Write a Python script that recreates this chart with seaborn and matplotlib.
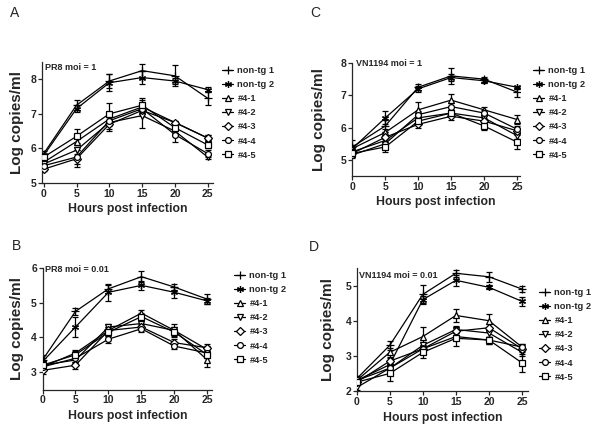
import numpy as np
import pandas as pd
import matplotlib
matplotlib.use("Agg")
import matplotlib.pyplot as plt
from matplotlib.lines import Line2D
import seaborn as sns

sns.set_style("ticks")
plt.rcParams['font.family'] = ['Liberation Sans', 'DejaVu Sans']

hours = [0, 5, 10, 15, 20, 25]
groups = ["non-tg 1", "non-tg 2", "#4-1", "#4-2", "#4-3", "#4-4", "#4-5"]

# Panel A: PR8 moi = 1
a_vals = {
    "non-tg 1": [5.85, 7.25, 7.95, 8.25, 8.1, 7.45],
    "non-tg 2": [5.8, 7.15, 7.9, 8.05, 7.95, 7.7],
    "#4-1": [5.6, 6.2, 6.85, 7.2, 6.75, 6.3],
    "#4-2": [5.55, 5.95, 6.75, 6.95, 6.5, 5.75],
    "#4-3": [5.4, 5.7, 6.7, 7.1, 6.75, 6.3],
    "#4-4": [5.5, 5.75, 6.8, 7.15, 6.4, 5.85],
    "#4-5": [5.75, 6.35, 7.0, 7.25, 6.6, 6.1],
}
a_err = {
    "non-tg 1": [0.08, 0.15, 0.2, 0.2, 0.3, 0.2],
    "non-tg 2": [0.05, 0.1, 0.25, 0.2, 0.1, 0.08],
    "#4-1": [0.05, 0.1, 0.2, 0.2, 0.05, 0.1],
    "#4-2": [0.05, 0.1, 0.2, 0.35, 0.05, 0.05],
    "#4-3": [0.05, 0.25, 0.2, 0.15, 0.05, 0.1],
    "#4-4": [0.05, 0.2, 0.1, 0.15, 0.2, 0.1],
    "#4-5": [0.05, 0.2, 0.3, 0.2, 0.1, 0.1],
}

# Panel C: VN1194 moi = 1
c_vals = {
    "non-tg 1": [5.4, 6.05, 7.25, 7.6, 7.5, 7.1],
    "non-tg 2": [5.35, 6.3, 7.2, 7.55, 7.45, 7.25],
    "#4-1": [5.35, 5.85, 6.55, 6.85, 6.55, 6.25],
    "#4-2": [5.25, 5.6, 6.3, 6.45, 6.3, 5.75],
    "#4-3": [5.2, 5.7, 6.1, 6.35, 6.2, 5.9],
    "#4-4": [5.15, 5.5, 6.4, 6.65, 6.45, 5.95],
    "#4-5": [5.2, 5.4, 6.2, 6.45, 6.05, 5.55],
}
c_err = {
    "non-tg 1": [0.2, 0.2, 0.1, 0.25, 0.08, 0.15],
    "non-tg 2": [0.1, 0.2, 0.1, 0.1, 0.08, 0.05],
    "#4-1": [0.1, 0.1, 0.25, 0.2, 0.1, 0.15],
    "#4-2": [0.1, 0.15, 0.1, 0.1, 0.1, 0.1],
    "#4-3": [0.1, 0.15, 0.1, 0.1, 0.1, 0.1],
    "#4-4": [0.1, 0.15, 0.1, 0.1, 0.1, 0.1],
    "#4-5": [0.1, 0.15, 0.1, 0.1, 0.12, 0.22],
}

# Panel B: PR8 moi = 0.01
b_vals = {
    "non-tg 1": [3.35, 4.75, 5.4, 5.75, 5.45, 5.1],
    "non-tg 2": [3.3, 4.3, 5.3, 5.5, 5.3, 5.05],
    "#4-1": [3.15, 3.55, 4.2, 4.7, 4.2, 3.35],
    "#4-2": [3.2, 3.35, 4.3, 4.4, 4.2, 3.65],
    "#4-3": [3.05, 3.2, 4.2, 4.3, 3.85, 3.7],
    "#4-4": [3.15, 3.4, 3.95, 4.25, 3.75, 3.55],
    "#4-5": [3.2, 3.5, 4.15, 4.6, 4.15, 3.5],
}
b_err = {
    "non-tg 1": [0.15, 0.1, 0.12, 0.15, 0.08, 0.15],
    "non-tg 2": [0.1, 0.3, 0.25, 0.12, 0.15, 0.1],
    "#4-1": [0.1, 0.1, 0.1, 0.1, 0.1, 0.2],
    "#4-2": [0.1, 0.1, 0.08, 0.1, 0.2, 0.1],
    "#4-3": [0.1, 0.1, 0.1, 0.1, 0.1, 0.1],
    "#4-4": [0.1, 0.1, 0.1, 0.1, 0.08, 0.1],
    "#4-5": [0.1, 0.1, 0.1, 0.1, 0.1, 0.1],
}

# Panel D: VN1194 moi = 0.01
d_vals = {
    "non-tg 1": [2.35, 3.3, 4.75, 5.35, 5.25, 4.9],
    "non-tg 2": [2.3, 2.75, 4.6, 5.15, 4.95, 4.55],
    "#4-1": [2.3, 3.1, 3.55, 4.15, 4.0, 3.25],
    "#4-2": [2.1, 2.65, 3.3, 3.75, 3.65, 3.1],
    "#4-3": [2.25, 2.85, 3.2, 3.7, 3.8, 3.2],
    "#4-4": [2.3, 2.65, 3.2, 3.55, 3.45, 3.25],
    "#4-5": [2.25, 2.5, 3.1, 3.5, 3.45, 2.8],
}
d_err = {
    "non-tg 1": [0.08, 0.12, 0.28, 0.1, 0.15, 0.08],
    "non-tg 2": [0.05, 0.1, 0.1, 0.15, 0.06, 0.12],
    "#4-1": [0.08, 0.12, 0.28, 0.18, 0.18, 0.08],
    "#4-2": [0.08, 0.1, 0.1, 0.1, 0.1, 0.1],
    "#4-3": [0.08, 0.1, 0.1, 0.1, 0.1, 0.1],
    "#4-4": [0.08, 0.1, 0.1, 0.1, 0.1, 0.1],
    "#4-5": [0.08, 0.22, 0.15, 0.22, 0.1, 0.25],
}

markers = {"non-tg 1": "+", "non-tg 2": (6, 2, 0), "#4-1": "^", "#4-2": "v",
           "#4-3": "D", "#4-4": "o", "#4-5": "s"}
msizes = {"non-tg 1": 6, "non-tg 2": 5, "#4-1": 4.2, "#4-2": 4.2,
          "#4-3": 3.6, "#4-4": 4.2, "#4-5": 4.5}

fig = plt.figure(figsize=(6.0, 4.28), dpi=100)
W, H = 600.0, 428.0

def px_axes(left, right, top, bottom):
    return fig.add_axes([left / W, 1 - bottom / H, (right - left) / W, (bottom - top) / H])

panels = [
    ("A", a_vals, a_err, (42, 213, 62, 183), (-0.26, 25.8), (5, 8.5), [5, 6, 7, 8],
     "PR8 moi = 1", (45, 68), (10, 13), (222, 66), 17, 209),
    ("C", c_vals, c_err, (352, 520, 63, 176), (-0.05, 25.45), (4.5, 8), [5, 6, 7, 8],
     "VN1194 moi = 1", (356, 63), (310, 13), (533, 66), 319, 202),
    ("B", b_vals, b_err, (42.5, 212, 268, 389.5), (0.0, 25.7), (2.5, 6), [3, 4, 5, 6],
     "PR8 moi = 0.01", (45, 269), (12, 246), (234, 271), 17, 416),
    ("D", d_vals, d_err, (356.7, 528, 268, 391), (0.0, 25.9), (2, 5.5), [2, 3, 4, 5],
     "VN1194 moi = 0.01", (359, 276), (309, 247), (539, 288), 328, 418),
]

for (letter, vals, errs, (l, r, t, b), xlim, ylim, yticks, title, tpos, lpos,
     legpos, ylx, xly) in panels:
    ax = px_axes(l, r, t, b)
    rows = []
    for g in groups:
        for h, v in zip(hours, vals[g]):
            rows.append({"time": h, "value": v, "group": g})
    df = pd.DataFrame(rows)
    for g in groups:
        ax.errorbar(hours, vals[g], yerr=errs[g], fmt="none", ecolor="black",
                    elinewidth=0.9, capsize=2.2, capthick=0.9, zorder=2)
        sns.lineplot(data=df[df["group"] == g], x="time", y="value", color="black",
                     marker=markers[g], markersize=msizes[g], markerfacecolor="white",
                     markeredgecolor="black", markeredgewidth=0.9, linewidth=0.9,
                     ax=ax, legend=False, zorder=3)
    sns.despine(ax=ax)
    ax.set_xlim(*xlim)
    ax.set_ylim(*ylim)
    ax.set_xticks(hours)
    ax.set_yticks(yticks)
    ax.tick_params(axis="both", length=3, width=0.9, pad=1, labelsize=7.5)
    for lab in ax.get_xticklabels() + ax.get_yticklabels():
        lab.set_fontweight("bold")
    for s in ["left", "bottom"]:
        ax.spines[s].set_linewidth(0.9)
    ax.set_xlabel("")
    ax.set_ylabel("")
    fig.text(ylx / W, 1 - ((t + b) / 2) / H, "Log copies/ml", rotation=90,
             ha="center", va="center", fontsize=11, fontweight="bold")
    fig.text(((l + r) / 2) / W, 1 - xly / H, "Hours post infection",
             ha="center", va="center", fontsize=8.8, fontweight="bold")
    fig.text(tpos[0] / W, 1 - tpos[1] / H, title, ha="left", va="center",
             fontsize=6.5, fontweight="bold")
    fig.text(lpos[0] / W, 1 - lpos[1] / H, letter, ha="left", va="center", fontsize=10)
    handles = [Line2D([], [], color="black", linewidth=0.9, marker=markers[g],
                      markersize=msizes[g], markerfacecolor="white",
                      markeredgecolor="black", markeredgewidth=0.9) for g in groups]
    fig.legend(handles, groups, loc="upper left",
               bbox_to_anchor=(legpos[0] / W, 1 - legpos[1] / H),
               frameon=False, prop={"size": 6.7, "weight": "bold"},
               handlelength=1.2, handletextpad=0.45, labelspacing=0.55,
               borderpad=0, borderaxespad=0)

fig.savefig("out.png", dpi=100)
